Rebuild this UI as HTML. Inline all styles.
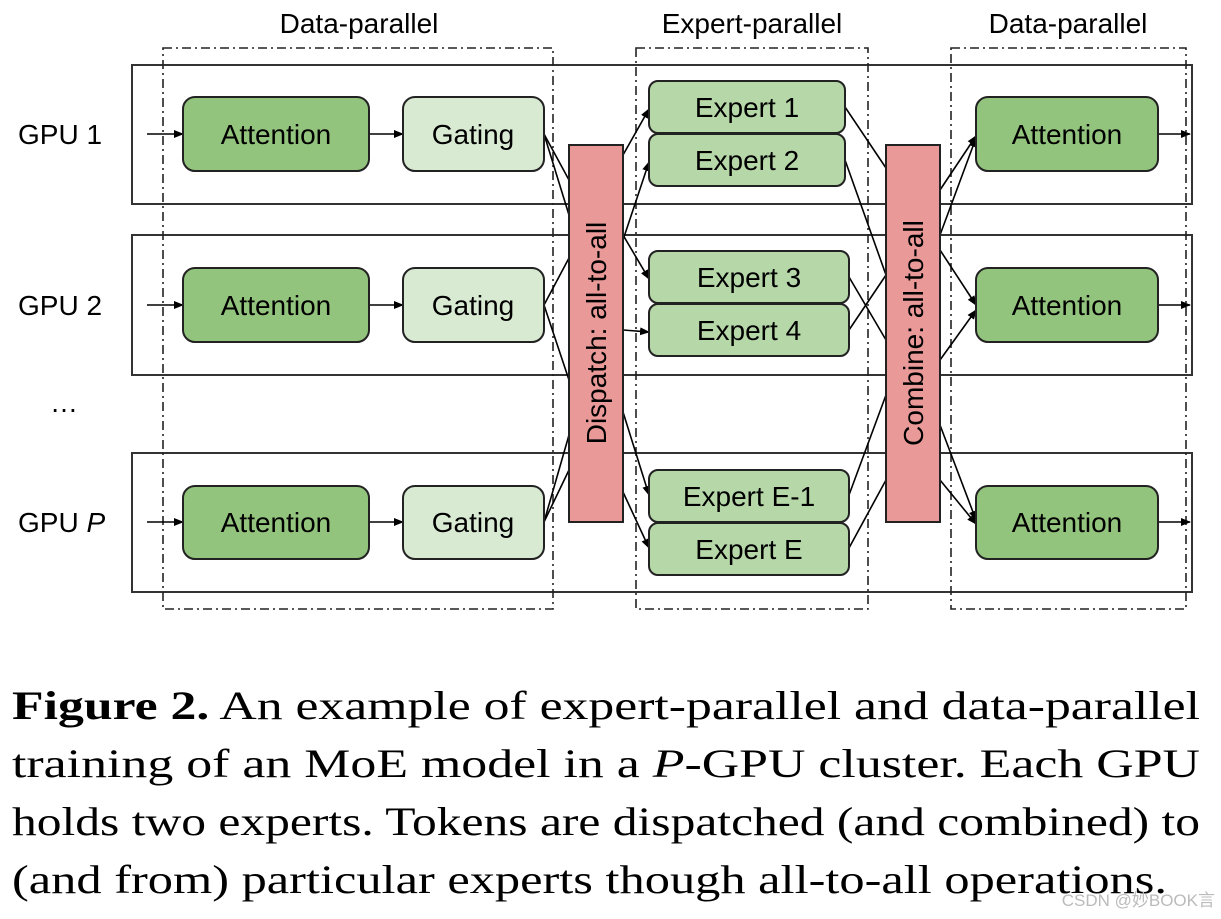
<!DOCTYPE html>
<html><head><meta charset="utf-8"><style>
html,body{margin:0;padding:0;background:#fff;}
svg{display:block;}
</style></head><body>
<svg width="1221" height="919" viewBox="0 0 1221 919" xmlns="http://www.w3.org/2000/svg">
<defs>
<marker id="a" markerWidth="10" markerHeight="8" refX="9" refY="4" orient="auto" markerUnits="userSpaceOnUse">
<path d="M0,0 L10,4 L0,8 z" fill="#000"/>
</marker>
</defs>
<rect x="0" y="0" width="1221" height="919" fill="#fff"/>
<g font-family="Liberation Sans, sans-serif" font-size="28" fill="#000">
<text x="359" y="33" text-anchor="middle">Data-parallel</text>
<text x="752" y="33" text-anchor="middle">Expert-parallel</text>
<text x="1068" y="33" text-anchor="middle">Data-parallel</text>
</g>
<!-- GPU rows -->
<g fill="none" stroke="#333" stroke-width="2">
<rect x="132" y="65" width="1060" height="139"/>
<rect x="132" y="235" width="1060" height="140"/>
<rect x="132" y="453" width="1060" height="139"/>
</g>
<!-- dash-dot boxes -->
<g fill="none" stroke="#222" stroke-width="1.6" stroke-dasharray="9,4,2,4">
<rect x="163" y="48" width="390" height="561"/>
<rect x="636" y="48" width="232" height="561"/>
<rect x="951" y="48" width="235" height="561"/>
</g>
<g font-family="Liberation Sans, sans-serif" font-size="28">
<text x="18" y="144">GPU 1</text>
<text x="18" y="315">GPU 2</text>
<text x="50" y="412">…</text>
<text x="18" y="532">GPU <tspan font-style="italic">P</tspan></text>
</g>
<!-- connectors -->
<g stroke="#000" stroke-width="1.6" fill="none" marker-end="url(#a)">
<line x1="147" y1="134" x2="183" y2="134"/>
<line x1="147" y1="305" x2="183" y2="305"/>
<line x1="147" y1="522" x2="183" y2="522"/>
<line x1="369" y1="134" x2="403" y2="134"/>
<line x1="369" y1="305" x2="403" y2="305"/>
<line x1="369" y1="522" x2="403" y2="522"/>
<line x1="1158" y1="134" x2="1190" y2="134"/>
<line x1="1158" y1="305" x2="1190" y2="305"/>
<line x1="1158" y1="522" x2="1190" y2="522"/>
<!-- dispatch to experts -->
<line x1="623" y1="155" x2="649" y2="109"/>
<line x1="623" y1="240" x2="649" y2="162"/>
<line x1="623" y1="235" x2="649" y2="279"/>
<line x1="623" y1="330" x2="649" y2="332"/>
<line x1="623" y1="412" x2="649" y2="495"/>
<line x1="623" y1="492" x2="649" y2="548"/>
<!-- combine to attention -->
<line x1="940" y1="190" x2="976" y2="136"/>
<line x1="940" y1="235" x2="976" y2="138"/>
<line x1="940" y1="250" x2="976" y2="305"/>
<line x1="940" y1="360" x2="976" y2="310"/>
<line x1="940" y1="425" x2="976" y2="520"/>
<line x1="940" y1="480" x2="976" y2="524"/>
</g>
<g stroke="#000" stroke-width="1.6" fill="none">
<line x1="544" y1="134" x2="569" y2="180"/>
<line x1="544" y1="134" x2="569" y2="215"/>
<line x1="544" y1="305" x2="569" y2="258"/>
<line x1="544" y1="305" x2="569" y2="380"/>
<line x1="544" y1="522" x2="569" y2="435"/>
<line x1="544" y1="522" x2="569" y2="470"/>
<line x1="845" y1="107" x2="886" y2="168"/>
<line x1="845" y1="160" x2="886" y2="275"/>
<line x1="849" y1="277" x2="886" y2="340"/>
<line x1="849" y1="330" x2="886" y2="275"/>
<line x1="849" y1="495" x2="886" y2="395"/>
<line x1="849" y1="548" x2="886" y2="480"/>
</g>
<!-- boxes -->
<g stroke="#222" stroke-width="2">
<rect x="183" y="97" width="186" height="74" rx="12" fill="#93c47d"/>
<rect x="183" y="268" width="186" height="74" rx="12" fill="#93c47d"/>
<rect x="183" y="486" width="186" height="73" rx="12" fill="#93c47d"/>
<rect x="403" y="97" width="141" height="74" rx="12" fill="#d9ead3"/>
<rect x="403" y="268" width="141" height="74" rx="12" fill="#d9ead3"/>
<rect x="403" y="486" width="141" height="73" rx="12" fill="#d9ead3"/>
<rect x="976" y="97" width="182" height="74" rx="12" fill="#93c47d"/>
<rect x="976" y="268" width="182" height="74" rx="12" fill="#93c47d"/>
<rect x="976" y="486" width="182" height="73" rx="12" fill="#93c47d"/>
<rect x="649" y="81" width="196" height="52" rx="9" fill="#b6d7a8"/>
<rect x="649" y="134" width="196" height="52" rx="9" fill="#b6d7a8"/>
<rect x="649" y="251" width="200" height="52" rx="9" fill="#b6d7a8"/>
<rect x="649" y="304" width="200" height="52" rx="9" fill="#b6d7a8"/>
<rect x="649" y="470" width="200" height="52" rx="9" fill="#b6d7a8"/>
<rect x="649" y="523" width="200" height="52" rx="9" fill="#b6d7a8"/>
<rect x="569" y="145" width="54" height="377" fill="#ea9999"/>
<rect x="886" y="145" width="54" height="377" fill="#ea9999"/>
</g>
<g font-family="Liberation Sans, sans-serif" font-size="28" text-anchor="middle" fill="#000">
<text x="276" y="144">Attention</text>
<text x="276" y="315">Attention</text>
<text x="276" y="532">Attention</text>
<text x="473" y="144">Gating</text>
<text x="473" y="315">Gating</text>
<text x="473" y="532">Gating</text>
<text x="1067" y="144">Attention</text>
<text x="1067" y="315">Attention</text>
<text x="1067" y="532">Attention</text>
<text x="747" y="117">Expert 1</text>
<text x="747" y="170">Expert 2</text>
<text x="749" y="287">Expert 3</text>
<text x="749" y="340">Expert 4</text>
<text x="749" y="506">Expert E-1</text>
<text x="749" y="559">Expert E</text>
<text transform="translate(606,333) rotate(-90)">Dispatch: all-to-all</text>
<text transform="translate(923,333) rotate(-90)">Combine: all-to-all</text>
</g>
<!-- caption -->
<g font-family="Liberation Serif, serif" font-size="40" fill="#000">
<text x="12" y="719" textLength="1188" lengthAdjust="spacingAndGlyphs"><tspan font-weight="bold">Figure 2.</tspan> An example of expert-parallel and data-parallel</text>
<text x="12" y="777" textLength="1188" lengthAdjust="spacingAndGlyphs">training of an MoE model in a <tspan font-style="italic">P</tspan>-GPU cluster. Each GPU</text>
<text x="12" y="835" textLength="1188" lengthAdjust="spacingAndGlyphs">holds two experts. Tokens are dispatched (and combined) to</text>
<text x="12" y="893" textLength="1155" lengthAdjust="spacingAndGlyphs">(and from) particular experts though all-to-all operations.</text>
</g>
<text x="1215" y="906" text-anchor="end" font-family="Liberation Sans, Noto Sans CJK SC, sans-serif" font-size="17" fill="#bbb">CSDN @妙BOOK言</text>
</svg>
</body></html>
